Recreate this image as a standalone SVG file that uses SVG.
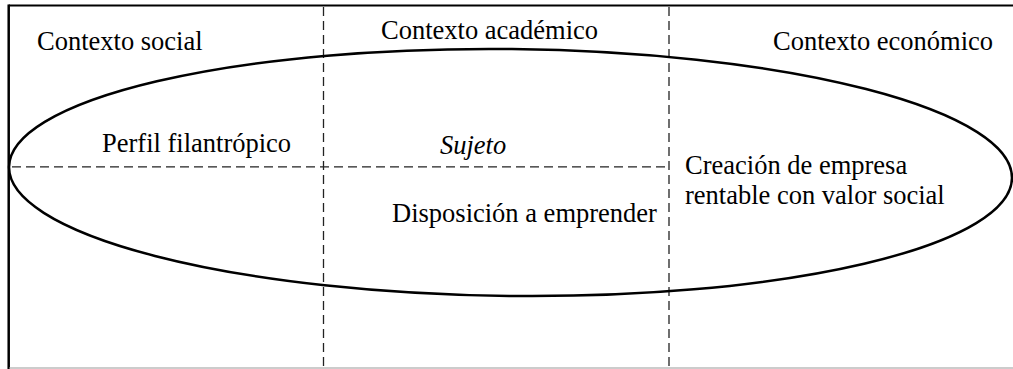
<svg xmlns="http://www.w3.org/2000/svg" width="1013" height="369" viewBox="0 0 1013 369">
<style>
.t{font-family:"Liberation Serif","Times New Roman",serif;font-size:26.5px;fill:#000}
.d{stroke:#222;stroke-width:1.3;stroke-dasharray:9 5;fill:none}
</style>
<rect x="0" y="0" width="1013" height="369" fill="#fff"/>
<g id="frame">
<line x1="8.7" y1="5.5" x2="1013" y2="5.5" stroke="#000" stroke-width="2.2"/>
<line x1="8.7" y1="4.5" x2="8.7" y2="369" stroke="#000" stroke-width="2.5"/>
<line x1="9" y1="368" x2="1013" y2="368" stroke="#999" stroke-width="1.2"/>
</g>
<g id="connectors">
<line class="d" x1="323.5" y1="7" x2="323.5" y2="369"/>
<line class="d" x1="669" y1="7" x2="669" y2="369"/>
<line class="d" x1="12" y1="166.8" x2="669" y2="166.8"/>
</g>
<g id="ellipse">
<ellipse cx="510.5" cy="172.5" rx="501.5" ry="123.5" transform="rotate(0.63 510.5 172.5)" fill="none" stroke="#000" stroke-width="2.5"/>
</g>
<g id="contexto-social"><text class="t" x="37" y="50">Contexto social</text></g>
<g id="contexto-academico"><text class="t" x="381" y="39">Contexto académico</text></g>
<g id="contexto-economico"><text class="t" x="773" y="50">Contexto económico</text></g>
<g id="perfil"><text class="t" x="102" y="152">Perfil filantrópico</text></g>
<g id="sujeto"><text class="t" x="440" y="154" font-style="italic">Sujeto</text></g>
<g id="disposicion"><text class="t" x="392" y="222">Disposición a emprender</text></g>
<g id="creacion"><text class="t" x="685" y="174">Creación de empresa</text><text class="t" x="685" y="204">rentable con valor social</text></g>
</svg>
